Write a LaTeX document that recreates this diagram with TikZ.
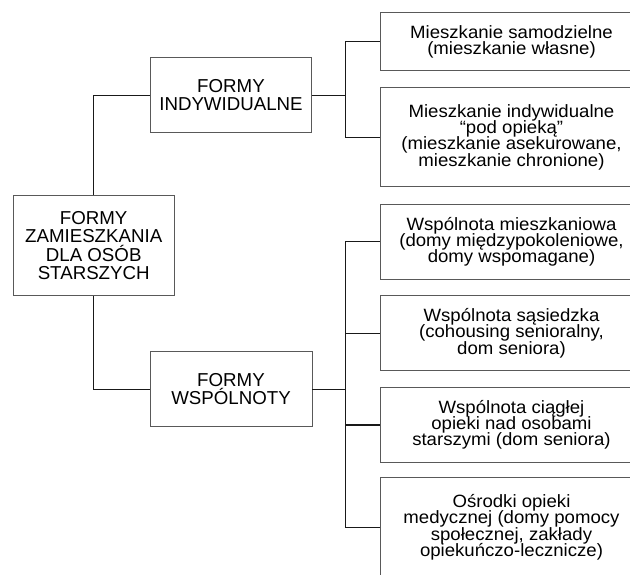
\documentclass[tikz,border=0pt]{standalone}
\usepackage{fontspec}
\setmainfont{Liberation Sans}
\newfontfamily\rfont{Liberation Sans}[FakeStretch=1.045]
\newcommand\mytight{\lineskiplimit=-30pt\relax\lineskip=0pt\relax}
\begin{document}
\begin{tikzpicture}[x=1pt,y=-1pt,
  box/.style={draw=black!65, line width=0.9pt, align=center, inner sep=0pt},
  lbox/.style={box, font=\fontsize{18.7}{18.4}\selectfont\mytight},
  rbox/.style={box, minimum width=263pt,
    font=\rfont\fontsize{17.8}{16.2}\selectfont\mytight},
  conn/.style={draw=black!90, line width=1.4pt}]
\useasboundingbox (0,0) rectangle (630,574);
\clip (0,0) rectangle (630,574);
\fill[white] (0,0) rectangle (630,574);
% left part
\node[lbox, minimum width=160.7pt, minimum height=100pt] (main) at (93.7,245.7)
  {FORMY\\ZAMIESZKANIA\\DLA OSÓB\\STARSZYCH};
\node[lbox, minimum width=161.7pt, minimum height=75pt] (ind) at (231,95.2)
  {FORMY\\INDYWIDUALNE};
\node[lbox, minimum width=162pt, minimum height=75pt] (wsp) at (231,389.2)
  {FORMY\\WSPÓLNOTY};
% right boxes
\node[rbox, minimum height=58.4pt] (r1) at (511.5,41.5)
  {Mieszkanie samodzielne\\(mieszkanie własne)};
\node[rbox, minimum height=99pt] (r2) at (511.5,137.2)
  {Mieszkanie indywidualne\\“pod opieką”\\(mieszkanie asekurowane,\\mieszkanie chronione)};
\node[rbox, minimum height=75pt] (r3) at (511.5,241.5)
  {Wspólnota mieszkaniowa\\(domy międzypokoleniowe,\\domy wspomagane)};
\node[rbox, minimum height=75pt] (r4) at (511.5,333.2)
  {Wspólnota sąsiedzka\\(cohousing senioralny,\\dom seniora)};
\node[rbox, minimum height=75pt] (r5) at (511.5,424.8)
  {Wspólnota ciągłej\\opieki nad osobami\\starszymi (dom seniora)};
\node[rbox, minimum height=99pt] (r6) at (511.5,527.2)
  {Ośrodki opieki\\medycznej (domy pomocy\\społecznej, zakłady\\opiekuńczo-lecznicze)};
% connectors
\coordinate (bx) at (345.7,0);
\draw[conn] (main.north) |- (ind.west);
\draw[conn] (main.south) |- (wsp.west);
\draw[conn] (ind.east) -- (ind.east -| bx);
\draw[conn] (r1.west) -- (r1.west -| bx) -- (r2.west -| bx) -- (r2.west);
\draw[conn] (wsp.east) -- (wsp.east -| bx);
\draw[conn] (r3.west) -- (r3.west -| bx) -- (r6.west -| bx) -- (r6.west);
\draw[conn] (r4.west) -- (r4.west -| bx);
\draw[conn] (r5.west) -- (r5.west -| bx);
\end{tikzpicture}
\end{document}
